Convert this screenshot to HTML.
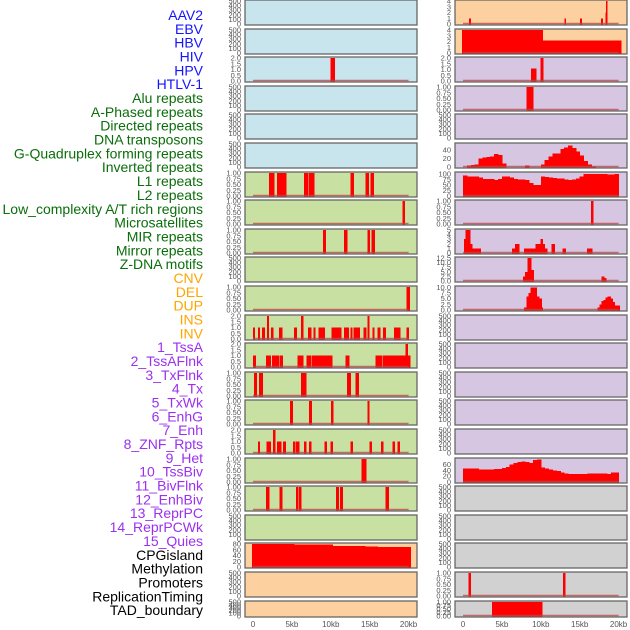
<!DOCTYPE html>
<html><head><meta charset="utf-8">
<style>
html,body{margin:0;padding:0;background:#fff;width:630px;height:630px;overflow:hidden}
svg{display:block}
</style></head>
<body>
<svg id="chart" width="630" height="630" xmlns="http://www.w3.org/2000/svg" font-family="Liberation Sans, sans-serif"></svg>
<script>
// ---- data ----
const trackLabels = ["AAV2","EBV","HBV","HIV","HPV","HTLV-1","Alu repeats","A-Phased repeats","Directed repeats","DNA transposons","G-Quadruplex forming repeats","Inverted repeats","L1 repeats","L2 repeats","Low_complexity A/T rich regions","Microsatellites","MIR repeats","Mirror repeats","Z-DNA motifs","CNV","DEL","DUP","INS","INV","1_TssA","2_TssAFlnk","3_TxFlnk","4_Tx","5_TxWk","6_EnhG","7_Enh","8_ZNF_Rpts","9_Het","10_TssBiv","11_BivFlnk","12_EnhBiv","13_ReprPC","14_ReprPCWk","15_Quies","CPGisland","Methylation","Promoters","ReplicationTiming","TAD_boundary"];
const labelGroups = [6,13,5,15,5];
const xTicks = [0,5,10,15,20];
const xTickLabels = ["0","5kb","10kb","15kb","20kb"];

const t500 = [0,100,200,300,400,500], t500L = ["0","100","200","300","400","500"];
const t1 = [0,0.25,0.5,0.75,1], t1L = ["0.00","0.25","0.50","0.75","1.00"];
const t2 = [0,0.5,1,1.5,2], t2L = ["0.0","0.5","1.0","1.5","2.0"];
const t4 = [0,1,2,3,4], t4L = ["0","1","2","3","4"];
const t40 = [0,20,40], t40L = ["0","20","40"];
const t60 = [0,20,40,60], t60L = ["0","20","40","60"];
const t80 = [0,20,40,60,80], t80L = ["0","20","40","60","80"];
const t100 = [0,25,50,75,100], t100L = ["0","25","50","75","100"];
const t5 = [0,1,2,3,4,5], t5L = ["0","1","2","3","4","5"];
const t12 = [0,2.5,5,7.5,10,12.5], t12L = ["0.0","2.5","5.0","7.5","10.0","12.5"];
const t10 = [0,2.5,5,7.5,10], t10L = ["0.0","2.5","5.0","7.5","10.0"];

// segments: [startKb, endKb, value]
const leftHIV = [[9.94,10.5,2]];
const leftAlu = [[2.06,2.71,1],[3.1,4.26,1],[6.58,7.1,1],[7.23,7.87,1],[12.5,12.9,1],[14.45,14.84,1],[15.1,15.48,1]];
const leftAPhased = [[19.2,19.5,1]];
const leftDirected = [[9.0,9.3,1],[11.7,12.1,1],[14.7,15.0,1],[15.2,15.6,1]];
const leftGQuad = [[19.7,20.1,1]];
const leftInverted = [[0,0.22,1],[0.65,0.86,1],[1.16,1.5,1],[1.8,2.0,2],[2.3,2.6,1],[3.35,3.7,1],[5.3,5.6,1],[6.2,6.4,2],[7.1,7.45,1],[7.75,8.0,1],[8.4,9.2,1],[10.06,11.3,1],[11.7,12.3,1],[12.5,12.7,1],[12.9,13.7,1],[14.2,14.5,1],[14.7,14.9,2],[15.35,15.57,1],[16.0,16.35,1],[16.7,17.0,1],[18.1,18.9,1],[19.7,19.96,1]];
const leftL1 = [[0,0.35,1],[1.68,2.28,1],[2.45,3.35,1],[3.5,3.8,1],[5.7,6.45,1],[6.85,7.45,1],[7.6,10.15,1],[11.87,12.35,1],[15.74,16.6,1],[16.7,19.6,1],[19.6,19.83,2],[19.83,20.2,1]];
const leftL2 = [[0.13,0.47,1],[0.77,1.25,1],[6.2,6.8,1],[12.1,12.5,1],[13.2,13.55,1]];
const leftLowComplex = [[4.77,5.07,1],[7.2,7.5,1],[10.0,10.3,1],[14.7,14.9,1]];
const leftMicro = [[0.65,0.86,1],[1.76,2.28,1],[2.58,2.8,2],[3.1,3.6,1],[3.87,4.17,1],[5.16,5.42,1],[5.55,5.9,1],[6.58,6.84,1],[7.23,7.48,1],[9.16,9.42,1],[9.94,10.2,1],[12.5,12.77,1],[15.0,15.2,1],[16.47,16.73,1],[17.93,18.19,1],[18.58,18.84,1]];
const leftMIR = [[13.94,14.5,1]];
const leftMirror = [[1.68,2.06,1],[3.4,3.74,1],[5.55,5.8,1],[5.9,6.2,1],[10.67,10.97,1],[11.18,11.48,1],[17.03,17.42,1]];
const leftCPG = [[-0.13,5.3,80],[5.3,10.2,78],[10.2,14.4,73],[14.4,15.7,71],[15.7,16.0,72],[16.0,20.25,70]];

const rightAAV2 = [[0.8,0.95,1],[13.05,13.2,1],[15.05,15.2,1],[17.75,17.9,1],[18.3,18.5,2],[18.38,18.5,4]];
const rightEBV = [[-0.13,10.2,4],[10.2,20.3,2.2]];
const rightHIV = [[8.77,9.4,1.1],[9.94,10.3,2]];
const rightHPV = [[8.13,9.0,1]];
const rightGQuadBins = [0,4,5,6,20,22,23,25,30,28,8,0,0,0,0,0,3,0,0,0,6,16,25,32,32,42,46,50,45,36,27,14,6,1,0,0,0,0,0,0];
const rightL1Bins = [93,90,90,90,85,78,78,77,74,78,88,88,84,78,76,76,72,60,50,50,90,87,84,82,80,80,76,72,76,80,88,100,100,100,100,100,100,98,98,100];
const rightAPhased = [[16.43,16.7,1]];
const rightDirected = [[0.13,0.3,3],[0.3,0.9,5],[0.9,1.16,2],[1.16,2.28,1],[6.32,6.7,1],[6.7,7.18,2],[7.87,9.3,1],[9.3,9.94,2],[9.94,10.2,3],[10.2,10.5,2],[10.5,10.8,1],[11.35,11.74,2],[12.77,13.16,1],[15.96,16.6,1]];
const rightLowComplex = [[7.74,8.0,2.5],[8.0,8.26,5],[8.26,8.77,12.5],[8.77,9.03,6],[17.8,18.1,2.5],[18.1,18.37,1.5]];
const rightMicro = [[7.87,8.13,1],[8.13,8.39,6],[8.39,8.65,7.5],[8.65,9.42,10],[9.42,9.8,6],[9.8,10.06,5],[10.06,10.2,1],[17.3,17.55,1],[17.55,17.8,2.5],[17.8,18.06,4],[18.06,18.3,4.5],[18.3,18.58,5.5],[18.58,18.97,6],[18.97,19.2,5],[19.2,19.48,3.5],[19.48,20.13,2]];
const rightMIRBins = [46,46,46,46,43,43,43,43,45,45,48,52,60,66,68,70,68,66,75,78,50,47,43,39,37,33,30,27,27,27,27,27,29,29,29,29,29,28,32,33];
const rightPromoters = [[0.69,0.99,1],[12.86,13.12,1]];
const rightTAD = [[3.7,10.15,1]];

const BLUE="#c8e4ec", GREEN="#c8e1a2", ORANGE="#fdd09f", PURPLE="#d6c6e2", GREY="#d1d1d1";
// [bg, ticks, tickLabels, ymax, segments, bins]
const leftPanels = [
 [BLUE,t500,t500L,500,null,null],[BLUE,t500,t500L,500,null,null],[BLUE,t2,t2L,2,leftHIV,null],
 [BLUE,t500,t500L,500,null,null],[BLUE,t500,t500L,500,null,null],[BLUE,t500,t500L,500,null,null],
 [GREEN,t1,t1L,1,leftAlu,null],[GREEN,t1,t1L,1,leftAPhased,null],[GREEN,t1,t1L,1,leftDirected,null],
 [GREEN,t500,t500L,500,null,null],[GREEN,t1,t1L,1,leftGQuad,null],[GREEN,t2,t2L,2,leftInverted,null],
 [GREEN,t2,t2L,2,leftL1,null],[GREEN,t1,t1L,1,leftL2,null],[GREEN,t1,t1L,1,leftLowComplex,null],
 [GREEN,t2,t2L,2,leftMicro,null],[GREEN,t1,t1L,1,leftMIR,null],[GREEN,t1,t1L,1,leftMirror,null],
 [GREEN,t500,t500L,500,null,null],[ORANGE,t80,t80L,80,leftCPG,null],[ORANGE,t500,t500L,500,null,null],
 [ORANGE,t500,t500L,500,null,null]
];
const rightPanels = [
 [ORANGE,t4,t4L,4,rightAAV2,null],[ORANGE,t4,t4L,4,rightEBV,null],[PURPLE,t2,t2L,2,rightHIV,null],
 [PURPLE,t1,t1L,1,rightHPV,null],[PURPLE,t500,t500L,500,null,null],[PURPLE,t40,t40L,54,null,rightGQuadBins],
 [PURPLE,t100,t100L,105,null,rightL1Bins],[PURPLE,t1,t1L,1,rightAPhased,null],[PURPLE,t5,t5L,5,rightDirected,null],
 [PURPLE,t12,t12L,12.5,rightLowComplex,null],[PURPLE,t10,t10L,10.2,rightMicro,null],[PURPLE,t500,t500L,500,null,null],
 [PURPLE,t500,t500L,500,null,null],[PURPLE,t500,t500L,500,null,null],[PURPLE,t500,t500L,500,null,null],
 [PURPLE,t500,t500L,500,null,null],[PURPLE,t60,t60L,79,null,rightMIRBins],[GREY,t500,t500L,500,null,null],
 [GREY,t500,t500L,500,null,null],[GREY,t500,t500L,500,null,null],[GREY,t1,t1L,1,rightPromoters,null],
 [GREY,t1,t1L,1,rightTAD,null]
];

// ---- render ----
const NS="http://www.w3.org/2000/svg";
const svg=document.getElementById('chart');
function mk(tag,attrs,parent){const e=document.createElementNS(NS,tag);for(const k in attrs)e.setAttribute(k,attrs[k]);(parent||svg).appendChild(e);return e;}

const groupColors=["#1414ff","#0a6e0a","#ffa500","#9b30ef","#000000"];
let gi=0,gc=0;
trackLabels.forEach((lab,i)=>{
  while(gc>=labelGroups[gi]){gi++;gc=0;}
  gc++;
  const t=mk('text',{x:203,y:20+i*13.84,'text-anchor':'end','font-size':'14',fill:groupColors[gi]});
  t.textContent=lab;
  
  
});

function rowTop(i){return Math.round(i*28.6);}
function rowH(i){return i===21?16:25;}

function drawPanel(p,i,colX,zeroX,name){
  const [bg,ticks,tl,ymax,segs,bins]=p;
  const top=rowTop(i), h=rowH(i);
  const g=mk('g',{});
  
  
  mk('rect',{x:colX,y:top,width:172,height:h,fill:bg,stroke:'#666','stroke-width':1.3},g);
  const y0=top+h-1, y1=top+1;
  const ys=v=>y0-(v/ymax)*(y0-y1);
  const xs=kb=>zeroX+kb*7.78;
  ticks.forEach((v,k)=>{
    const t=mk('text',{x:colX-4,y:ys(v)+2.5,'text-anchor':'end','font-size':'7.5',fill:'#555'},g);
    t.textContent=tl[k];
    
    
  });
  let s=segs;
  if(bins){s=bins.map((v,k)=>[k*0.5,k*0.5+0.5,v]).filter(d=>d[2]>0);}
  if(s){
    s.forEach(d=>{
      const r=mk('rect',{x:xs(d[0]),y:ys(d[2]),width:Math.max(1,xs(d[1])-xs(d[0])+0.5),height:y0-ys(d[2])+0.5,fill:'#ff0000','shape-rendering':'crispEdges'},g);
      
      
    });
    mk('line',{x1:xs(0),x2:xs(20),y1:y0-0.5,y2:y0-0.5,stroke:'rgba(190,70,70,0.75)','stroke-width':1.5},g);
  }
}
leftPanels.forEach((p,i)=>drawPanel(p,i,245,253,'left'));
rightPanels.forEach((p,i)=>drawPanel(p,i,455,463,'right'));

[[253,'left'],[463,'right']].forEach(([zx,n])=>{
  xTicks.forEach((v,k)=>{
    const t=mk('text',{x:zx+v*7.78,y:627,'text-anchor':'middle','font-size':'8',fill:'#555'});
    t.textContent=xTickLabels[k];
    
    
  });
});
</script>
</body></html>
